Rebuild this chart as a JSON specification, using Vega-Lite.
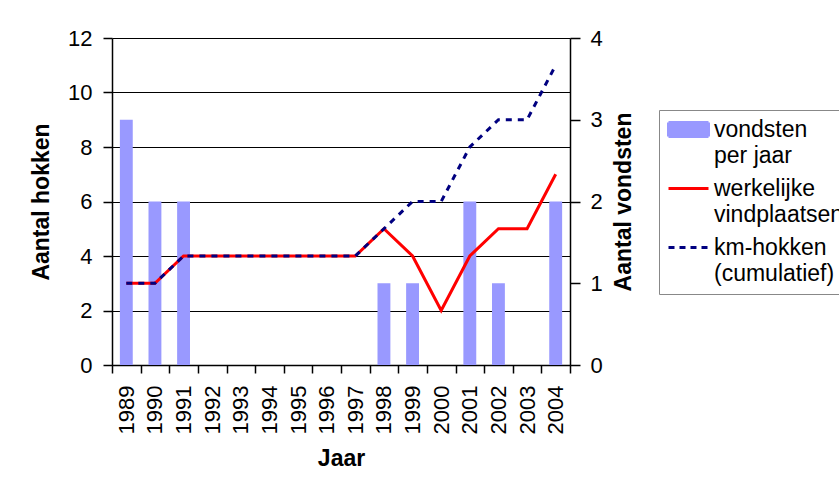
{
  "$schema": "https://vega.github.io/schema/vega-lite/v6.json",
  "autosize": "none",
  "padding": {"left": 112, "top": 38, "right": 269, "bottom": 120},
  "width": 458,
  "height": 327,
  "background": "white",
  "config": {
    "font": "Liberation Sans",
    "view": {"stroke": null},
    "axis": {
      "labelFont": "Liberation Sans",
      "labelFontSize": 22,
      "labelColor": "#000000",
      "titleFont": "Liberation Sans",
      "titleFontSize": 23,
      "titleFontWeight": "bold",
      "titleColor": "#000000",
      "domainColor": "#000000",
      "domainWidth": 1.5,
      "tickColor": "#000000",
      "tickWidth": 1.5,
      "gridColor": "#000000",
      "gridWidth": 1,
      "gridOpacity": 1
    }
  },
  "data": {
    "values": [
      {"jaar": "1989", "vondsten": 3, "werkelijk": 3, "km": 3},
      {"jaar": "1990", "vondsten": 2, "werkelijk": 3, "km": 3},
      {"jaar": "1991", "vondsten": 2, "werkelijk": 4, "km": 4},
      {"jaar": "1992", "vondsten": null, "werkelijk": 4, "km": 4},
      {"jaar": "1993", "vondsten": null, "werkelijk": 4, "km": 4},
      {"jaar": "1994", "vondsten": null, "werkelijk": 4, "km": 4},
      {"jaar": "1995", "vondsten": null, "werkelijk": 4, "km": 4},
      {"jaar": "1996", "vondsten": null, "werkelijk": 4, "km": 4},
      {"jaar": "1997", "vondsten": null, "werkelijk": 4, "km": 4},
      {"jaar": "1998", "vondsten": 1, "werkelijk": 5, "km": 5},
      {"jaar": "1999", "vondsten": 1, "werkelijk": 4, "km": 6},
      {"jaar": "2000", "vondsten": null, "werkelijk": 2, "km": 6},
      {"jaar": "2001", "vondsten": 2, "werkelijk": 4, "km": 8},
      {"jaar": "2002", "vondsten": 1, "werkelijk": 5, "km": 9},
      {"jaar": "2003", "vondsten": null, "werkelijk": 5, "km": 9},
      {"jaar": "2004", "vondsten": 2, "werkelijk": 7, "km": 11}
    ]
  },
  "encoding": {
    "x": {
      "field": "jaar",
      "type": "ordinal",
      "scale": {"paddingInner": 0, "paddingOuter": 0},
      "axis": {
        "title": "Jaar",
        "labelAngle": 270,
        "tickBand": "extent",
        "tickSize": 8,
        "labelPadding": 12,
        "titlePadding": 14
      }
    }
  },
  "layer": [
    {
      "mark": {"type": "bar", "color": "#9999ff", "width": {"band": 0.45}},
      "encoding": {
        "y": {
          "field": "vondsten",
          "type": "quantitative",
          "scale": {"domain": [0, 4], "nice": false},
          "axis": {
            "orient": "right",
            "title": "Aantal vondsten",
            "titleAngle": 270,
            "titleBaseline": "top",
            "values": [0, 1, 2, 3, 4],
            "grid": false,
            "tickSize": 10,
            "labelPadding": 10,
            "titlePadding": 10
          }
        },
        "color": {
          "datum": "vondsten per jaar",
          "scale": {
            "domain": ["vondsten per jaar", "werkelijke vindplaatsen", "km-hokken (cumulatief)"],
            "range": ["#9999ff", "#ff0000", "#000080"]
          },
          "legend": {
            "title": null,
            "orient": "none",
            "legendX": 547,
            "legendY": 72,
            "padding": 8,
            "strokeColor": "#888888",
            "fillColor": "white",
            "labelFont": "Liberation Sans",
            "labelFontSize": 23,
            "labelColor": "#000000",
            "labelLimit": 300,
            "labelOffset": 24,
            "symbolSize": 400,
            "symbolStrokeWidth": 3,
            "rowPadding": 9,
            "labelExpr": "datum.value == 'vondsten per jaar' ? ['vondsten', 'per jaar'] : datum.value == 'werkelijke vindplaatsen' ? ['werkelijke', 'vindplaatsen'] : ['km-hokken', '(cumulatief)']",
            "encode": {
              "labels": {
                "update": {"lineHeight": {"value": 26}}
              },
              "symbols": {
                "update": {
                  "shape": {"signal": "datum.value == 'vondsten per jaar' ? 'M-1,-0.7H3V0.7H-1Z' : 'M-1,0H3'"},
                  "fill": {"signal": "datum.value == 'vondsten per jaar' ? '#9999ff' : 'transparent'"},
                  "stroke": {"signal": "datum.value == 'vondsten per jaar' ? 'transparent' : (datum.value == 'werkelijke vindplaatsen' ? '#ff0000' : '#000080')"},
                  "strokeDash": {"signal": "datum.value == 'km-hokken (cumulatief)' ? [6, 5] : [1, 0]"},
                  "opacity": {"value": 1}
                }
              }
            }
          }
        }
      }
    },
    {
      "layer": [
        {
          "mark": {"type": "line", "strokeWidth": 3},
          "encoding": {
            "y": {
              "field": "werkelijk",
              "type": "quantitative",
              "scale": {"domain": [0, 12], "nice": false},
              "axis": {
                "orient": "left",
                "title": "Aantal hokken",
                "values": [0, 2, 4, 6, 8, 10, 12],
                "grid": true,
                "tickSize": 9,
                "labelPadding": 11,
                "titlePadding": 14
              }
            },
            "color": {"datum": "werkelijke vindplaatsen"}
          }
        },
        {
          "mark": {"type": "line", "strokeWidth": 3, "strokeDash": [6, 6]},
          "encoding": {
            "y": {"field": "km", "type": "quantitative"},
            "color": {"datum": "km-hokken (cumulatief)"}
          }
        }
      ]
    }
  ],
  "resolve": {"scale": {"y": "independent"}}
}
